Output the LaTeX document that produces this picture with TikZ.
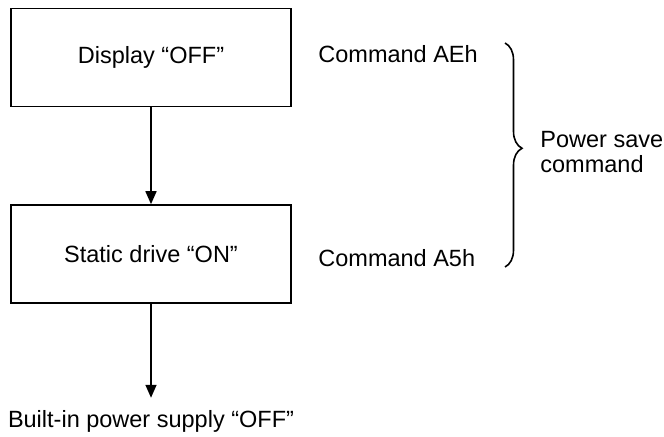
\documentclass[tikz,border=0pt]{standalone}
\usepackage{fontspec}
\setmainfont{Liberation Sans}
\usetikzlibrary{arrows.meta,decorations.pathreplacing}
\begin{document}
\begin{tikzpicture}[x=0.5pt,y=-0.5pt,
		font=\fontsize{11.75pt}{12.5pt}\selectfont,
		box/.style={draw, line width=0.8pt, minimum width=140pt, minimum height=49pt, inner sep=0pt},
		arr/.style={-{Triangle[width=5.5pt,length=6.5pt]}, line width=0.8pt}]
	\useasboundingbox (0,0) rectangle (664,437);
	\node[box] (display) at (151,57.5) {Display “OFF”};
	\node[box] (static) at (151,254) {Static drive “ON”};
	\node[anchor=base, inner xsep=0pt, inner ysep=6.4pt] (supply) at (151,428) {Built-in power supply “OFF”};
	\draw[arr] (display) -- (static);
	\draw[arr] (static) -- (supply);
	\node[anchor=base west, inner sep=0pt] (cmdAE) at (318,63) {Command AEh};
	\node[anchor=base west, inner sep=0pt] (cmdA5) at (318,267) {Command A5h};
	\coordinate (brtop) at (505,43);
	\coordinate (brbot) at (505,267);
	\draw[line width=0.8pt, decorate, decoration={brace, amplitude=8.5pt, aspect=0.47}] (brtop) -- (brbot);
	\node[anchor=north west, inner sep=0pt, align=left] (save) at (540,131) {Power save\\command};
\end{tikzpicture}
\end{document}
